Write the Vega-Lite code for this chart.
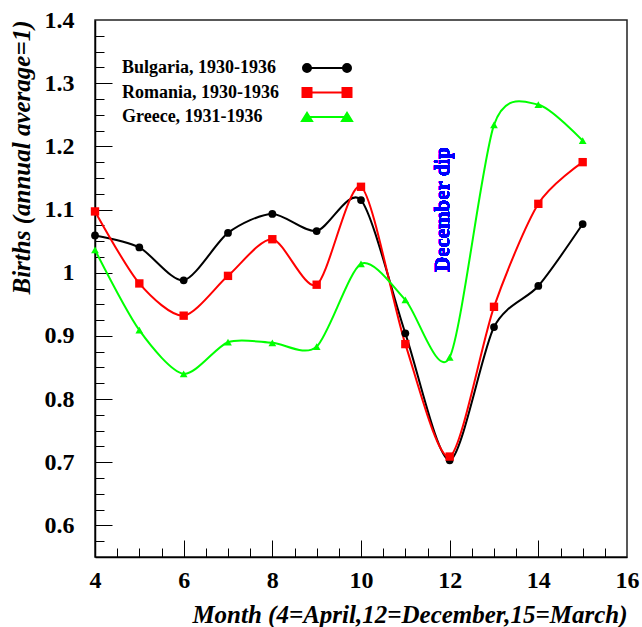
{
  "$schema": "https://vega.github.io/schema/vega-lite/v6.json",
  "width": 532,
  "height": 537,
  "autosize": {"type": "none"},
  "padding": {"left": 95, "top": 20, "right": 15, "bottom": 70},
  "background": "white",
  "config": {
    "view": {"stroke": "#222222", "strokeWidth": 1.5},
    "font": "Liberation Serif"
  },
  "data": {
    "values": [
      {"series": "Bulgaria, 1930-1936", "month": 4, "births": 1.059},
      {"series": "Bulgaria, 1930-1936", "month": 5, "births": 1.040},
      {"series": "Bulgaria, 1930-1936", "month": 6, "births": 0.988},
      {"series": "Bulgaria, 1930-1936", "month": 7, "births": 1.063},
      {"series": "Bulgaria, 1930-1936", "month": 8, "births": 1.093},
      {"series": "Bulgaria, 1930-1936", "month": 9, "births": 1.066},
      {"series": "Bulgaria, 1930-1936", "month": 10, "births": 1.115},
      {"series": "Bulgaria, 1930-1936", "month": 11, "births": 0.904},
      {"series": "Bulgaria, 1930-1936", "month": 12, "births": 0.703},
      {"series": "Bulgaria, 1930-1936", "month": 13, "births": 0.914},
      {"series": "Bulgaria, 1930-1936", "month": 14, "births": 0.979},
      {"series": "Bulgaria, 1930-1936", "month": 15, "births": 1.077},
      {"series": "Romania, 1930-1936", "month": 4, "births": 1.097},
      {"series": "Romania, 1930-1936", "month": 5, "births": 0.983},
      {"series": "Romania, 1930-1936", "month": 6, "births": 0.932},
      {"series": "Romania, 1930-1936", "month": 7, "births": 0.995},
      {"series": "Romania, 1930-1936", "month": 8, "births": 1.053},
      {"series": "Romania, 1930-1936", "month": 9, "births": 0.981},
      {"series": "Romania, 1930-1936", "month": 10, "births": 1.136},
      {"series": "Romania, 1930-1936", "month": 11, "births": 0.887},
      {"series": "Romania, 1930-1936", "month": 12, "births": 0.709},
      {"series": "Romania, 1930-1936", "month": 13, "births": 0.946},
      {"series": "Romania, 1930-1936", "month": 14, "births": 1.109},
      {"series": "Romania, 1930-1936", "month": 15, "births": 1.175},
      {"series": "Greece, 1931-1936", "month": 4, "births": 1.036},
      {"series": "Greece, 1931-1936", "month": 5, "births": 0.909},
      {"series": "Greece, 1931-1936", "month": 6, "births": 0.840},
      {"series": "Greece, 1931-1936", "month": 7, "births": 0.890},
      {"series": "Greece, 1931-1936", "month": 8, "births": 0.889},
      {"series": "Greece, 1931-1936", "month": 9, "births": 0.883},
      {"series": "Greece, 1931-1936", "month": 10, "births": 1.014},
      {"series": "Greece, 1931-1936", "month": 11, "births": 0.957},
      {"series": "Greece, 1931-1936", "month": 12, "births": 0.866},
      {"series": "Greece, 1931-1936", "month": 13, "births": 1.234},
      {"series": "Greece, 1931-1936", "month": 14, "births": 1.266},
      {"series": "Greece, 1931-1936", "month": 15, "births": 1.209}
    ]
  },
  "layer": [
    {
      "mark": {"type": "line", "interpolate": "cardinal", "tension": 0.2, "strokeWidth": 2},
      "encoding": {
        "x": {
          "field": "month", "type": "quantitative",
          "scale": {"domain": [4, 16], "nice": false, "zero": false},
          "axis": {
            "orient": "bottom", "values": [4, 6, 8, 10, 12, 14, 16], "ticks": false, "grid": false,
            "domain": true, "domainColor": "black", "domainWidth": 1.5,
            "labelFont": "Liberation Serif", "labelFontSize": 24, "labelFontWeight": "bold", "labelColor": "black",
            "labelPadding": 11, "labelFlush": false, "labelOverlap": false,
            "title": "Month (4=April,12=December,15=March)", "titleAnchor": "end",
            "titleFont": "Liberation Serif", "titleFontSize": 25, "titleFontWeight": "bold", "titleFontStyle": "italic",
            "titleColor": "black", "titlePadding": 10
          }
        },
        "y": {
          "field": "births", "type": "quantitative",
          "scale": {"domain": [0.55, 1.4], "nice": false, "zero": false},
          "axis": {
            "orient": "left", "values": [0.6, 0.7, 0.8, 0.9, 1, 1.1, 1.2, 1.3, 1.4], "format": "~g",
            "ticks": false, "grid": false,
            "domain": true, "domainColor": "black", "domainWidth": 1.5,
            "labelFont": "Liberation Serif", "labelFontSize": 24, "labelFontWeight": "bold", "labelColor": "black",
            "labelPadding": 21, "labelFlush": false, "labelOverlap": false,
            "title": "Births (annual average=1)", "titleAnchor": "end",
            "titleFont": "Liberation Serif", "titleFontSize": 25, "titleFontWeight": "bold", "titleFontStyle": "italic",
            "titleColor": "black", "titlePadding": 10
          }
        },
        "color": {
          "field": "series", "type": "nominal",
          "scale": {
            "domain": ["Bulgaria, 1930-1936", "Romania, 1930-1936", "Greece, 1931-1936"],
            "range": ["#000000", "#ff0000", "#00ff00"]
          },
          "legend": {
            "orient": "none", "legendX": 27, "legendY": 39, "title": null,
            "labelFont": "Liberation Serif", "labelFontSize": 18, "labelFontWeight": "bold", "labelColor": "black",
            "labelLimit": 400, "symbolSize": 100, "rowPadding": 6.5,
            "encode": {
              "symbols": {
                "update": {
                  "shape": {"signal": "datum.value === 'Bulgaria, 1930-1936' ? 'M-4,0L4,0M3.2,0A0.8,0.8,0,1,0,4.8,0A0.8,0.8,0,1,0,3.2,0ZM-4.8,0A0.8,0.8,0,1,0,-3.2,0A0.8,0.8,0,1,0,-4.8,0Z' : datum.value === 'Romania, 1930-1936' ? 'M-4,0L4,0M3.1,-0.9L4.9,-0.9L4.9,0.9L3.1,0.9ZM-4.9,-0.9L-3.1,-0.9L-3.1,0.9L-4.9,0.9Z' : 'M-4,0L4,0M3,0.8L5,0.8L4,-0.8ZM-5,0.8L-3,0.8L-4,-0.8Z'"},
                  "x": {"value": 205},
                  "fill": {"signal": "scale('color', datum.value)"},
                  "stroke": {"signal": "scale('color', datum.value)"},
                  "strokeWidth": {"value": 2},
                  "opacity": {"value": 1},
                  "fillOpacity": {"value": 1},
                  "strokeOpacity": {"value": 1}
                }
              },
              "labels": {
                "update": {"x": {"value": 0}, "align": {"value": "left"}}
              }
            }
          }
        }
      }
    },
    {
      "transform": [{"filter": "datum.series === 'Bulgaria, 1930-1936'"}],
      "mark": {"type": "point", "shape": "circle", "filled": true, "opacity": 1, "size": 60, "color": "#000000"},
      "encoding": {
        "x": {
          "field": "month", "type": "quantitative",
          "axis": {
            "orient": "bottom", "values": [6, 8, 10, 12, 14], "labels": false, "domain": false, "grid": false,
            "ticks": true, "tickSize": -17, "tickColor": "black", "tickWidth": 1, "title": null
          }
        },
        "y": {
          "field": "births", "type": "quantitative",
          "axis": {
            "orient": "left", "values": [0.6, 0.7, 0.8, 0.9, 1, 1.1, 1.2, 1.3], "labels": false, "domain": false, "grid": false,
            "ticks": true, "tickSize": -17, "tickColor": "black", "tickWidth": 1, "title": null
          }
        }
      }
    },
    {
      "transform": [{"filter": "datum.series === 'Romania, 1930-1936'"}],
      "mark": {"type": "point", "shape": "square", "filled": true, "opacity": 1, "size": 70, "color": "#ff0000"},
      "encoding": {
        "x": {"field": "month", "type": "quantitative", "axis": null},
        "y": {"field": "births", "type": "quantitative", "axis": null}
      }
    },
    {
      "transform": [{"filter": "datum.series === 'Greece, 1931-1936'"}],
      "mark": {"type": "point", "shape": "triangle-up", "filled": true, "opacity": 1, "size": 60, "color": "#00ff00"},
      "encoding": {
        "x": {"field": "month", "type": "quantitative", "axis": null},
        "y": {"field": "births", "type": "quantitative", "axis": null}
      }
    },
    {
      "mark": {"type": "text", "angle": 270, "align": "center", "baseline": "middle", "font": "Liberation Serif", "fontSize": 21, "fontWeight": "bold", "color": "#0000ff", "text": "December dip"},
      "encoding": {
        "x": {
          "datum": 11.85, "type": "quantitative",
          "axis": {
            "orient": "bottom", "values": [4.5, 5, 5.5, 6.5, 7, 7.5, 8.5, 9, 9.5, 10.5, 11, 11.5, 12.5, 13, 13.5, 14.5, 15, 15.5],
            "labels": false, "domain": false, "grid": false,
            "ticks": true, "tickSize": -9, "tickColor": "black", "tickWidth": 1, "title": null
          }
        },
        "y": {
          "datum": 1.1, "type": "quantitative",
          "axis": {
            "orient": "left", "values": [0.575, 0.625, 0.65, 0.675, 0.725, 0.75, 0.775, 0.825, 0.85, 0.875, 0.925, 0.95, 0.975, 1.025, 1.05, 1.075, 1.125, 1.15, 1.175, 1.225, 1.25, 1.275, 1.325, 1.35, 1.375],
            "labels": false, "domain": false, "grid": false,
            "ticks": true, "tickSize": -9, "tickColor": "black", "tickWidth": 1, "title": null
          }
        }
      }
    }
  ],
  "resolve": {"axis": {"x": "independent", "y": "independent"}}
}
